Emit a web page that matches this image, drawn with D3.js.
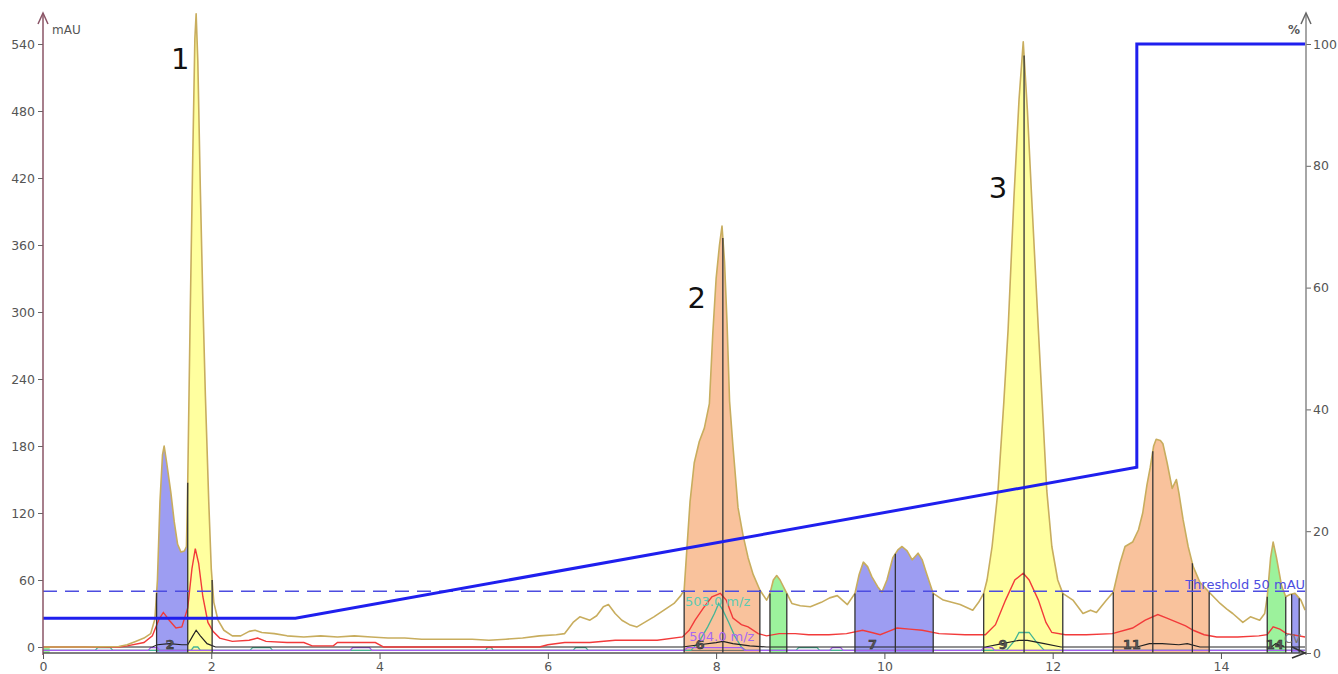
<!DOCTYPE html>
<html>
<head>
<meta charset="utf-8">
<script src="https://cdn.jsdelivr.net/npm/d3@7"></script>
<style>
  html, body { margin: 0; padding: 0; background: #fff; }
  svg { display: block; }
  text { font-family: "DejaVu Sans", sans-serif; }
</style>
</head>
<body>
<svg id="chart" width="1338" height="674"></svg>
<script>
// ---- chromatogram data (time in min, absorbance in mAU) ----
const uvTrace = [
  [0,0],[0.5,0],[0.9,0.5],[1.0,2],[1.1,5],[1.2,8],[1.28,12],[1.33,25],[1.36,60],[1.39,130],
  [1.42,172],[1.44,180],[1.47,165],[1.52,138],[1.56,112],[1.6,92],[1.64,85],[1.68,86],[1.705,90],
  [1.72,147],[1.75,300],[1.78,440],[1.805,545],[1.82,567],[1.84,525],[1.87,410],[1.9,310],
  [1.93,225],[1.97,130],[2.0,70],[2.03,40],[2.08,24],[2.15,15],[2.25,10],[2.35,10],[2.45,14],
  [2.52,15],[2.6,13],[2.75,12],[2.9,10],[3.1,9],[3.3,10],[3.5,9],[3.7,10],[3.9,9],[4.1,8],
  [4.3,8],[4.5,7],[4.8,7],[5.1,7],[5.3,6],[5.5,7],[5.7,8],[5.9,10],[6.1,11],[6.2,12],[6.3,22],
  [6.38,27],[6.5,24],[6.58,28],[6.66,36],[6.72,38],[6.8,30],[6.88,24],[6.97,20],[7.06,18],
  [7.15,22],[7.26,27],[7.38,33],[7.5,39],[7.58,46],[7.62,51],[7.65,85],[7.69,130],[7.74,165],
  [7.8,184],[7.86,196],[7.92,218],[7.96,280],[8.0,330],[8.04,360],[8.07,377],[8.1,345],
  [8.13,290],[8.16,220],[8.2,180],[8.26,125],[8.32,100],[8.38,80],[8.44,65],[8.52,51],[8.6,42],
  [8.64,48],[8.68,60],[8.72,64],[8.76,60],[8.84,48],[8.9,39],[9.0,37],[9.12,36],[9.25,40],
  [9.35,44],[9.44,46],[9.56,38],[9.65,48],[9.7,65],[9.75,76],[9.8,72],[9.85,63],[9.92,54],
  [9.97,49],[10.03,60],[10.1,80],[10.16,87],[10.21,90],[10.27,86],[10.33,78],[10.4,84],
  [10.45,78],[10.5,66],[10.58,48],[10.7,42],[10.8,40],[10.9,38],[11.05,33],[11.12,40],
  [11.18,48],[11.22,60],[11.28,90],[11.35,140],[11.42,220],[11.47,284],[11.54,403],[11.6,490],
  [11.65,542],[11.7,480],[11.75,403],[11.83,284],[11.93,140],[11.99,90],[12.06,60],[12.12,48],
  [12.24,42],[12.36,30],[12.45,33],[12.52,31],[12.64,42],[12.72,49],[12.8,75],[12.86,90],
  [12.95,94],[13.02,105],[13.07,120],[13.12,145],[13.16,161],[13.2,180],[13.23,186],[13.28,185],
  [13.31,182],[13.36,165],[13.42,142],[13.47,150],[13.5,138],[13.55,114],[13.61,90],[13.67,72],
  [13.75,58],[13.86,49],[13.99,39],[14.07,34],[14.14,30],[14.26,22],[14.35,27],[14.46,24],
  [14.52,30],[14.55,45],[14.59,80],[14.62,94],[14.66,80],[14.72,55],[14.77,45],[14.82,47],
  [14.88,48],[14.95,42],[15.0,33]
];

const secondWavelength = [
  [0,0],[0.9,0],[1.0,1],[1.2,4],[1.3,10],[1.38,25],[1.43,31],[1.5,24],[1.58,17],[1.65,18],
  [1.72,35],[1.77,70],[1.81,88],[1.85,75],[1.9,45],[1.96,22],[2.02,14],[2.1,8],[2.25,5],
  [2.45,6],[2.55,8],[2.65,5],[2.9,4],[3.1,4],[3.2,1],[3.45,1],[3.5,4],[3.95,4],[4.05,0],
  [5.9,0],[6.0,2],[6.2,4],[6.5,4],[6.8,6],[7.0,6],[7.3,6],[7.6,9],[7.68,15],[7.75,24],
  [7.85,35],[7.95,45],[8.05,48],[8.12,42],[8.2,26],[8.3,20],[8.38,18],[8.5,12],[8.6,10],
  [8.75,12],[8.94,12],[9.1,11],[9.34,11],[9.55,12],[9.74,15],[9.85,13],[9.95,11],[10.05,14],
  [10.15,17],[10.3,16],[10.45,15],[10.65,12],[10.96,11],[11.2,11],[11.32,20],[11.44,42],
  [11.55,60],[11.65,66],[11.72,60],[11.83,42],[11.92,22],[11.99,13],[12.15,11],[12.4,11],
  [12.71,12],[12.95,17],[13.1,24],[13.25,29],[13.35,26],[13.48,22],[13.58,19],[13.67,15],
  [13.8,11],[13.95,9],[14.2,9],[14.45,10],[14.55,11],[14.62,18],[14.7,16],[14.78,12],[15,9]
];

const ticTrace = [
  [0,0],[1.3,0],[1.36,2],[1.5,3],[1.65,2],[1.72,2],[1.78,10],[1.82,15],[1.87,10],[1.95,3],
  [2.05,0],[7.6,0],[7.8,2],[8.0,4],[8.08,5],[8.2,3],[8.4,1],[8.6,0],[11.2,0],[11.4,3],
  [11.6,6],[11.7,6],[11.9,3],[12.1,0],[13.0,0],[13.15,3],[13.3,3],[13.5,2],[13.6,3],
  [13.75,0],[14.6,0],[14.65,3],[14.75,0],[15,0]
];

const ms503 = [
  [0,-3],[0.62,-3],[0.65,-0.5],[0.8,-0.5],[0.83,-3],[1.76,-3],[1.79,0],[1.84,0],[1.87,-3],
  [2.46,-3],[2.49,-0.5],[2.7,-0.5],[2.73,-3],[5.26,-3],[5.28,-0.5],[5.33,-0.5],[5.35,-3],
  [6.3,-3],[6.33,-0.5],[6.45,-0.5],[6.48,-3],[7.7,-3],[7.8,5],[7.9,18],[7.98,30],[8.03,39],
  [8.08,33],[8.15,22],[8.22,10],[8.3,0],[8.35,-3],[8.95,-3],[8.98,-0.5],[9.2,-0.5],[9.23,-3],
  [11.45,-3],[11.55,6],[11.6,13],[11.72,13],[11.8,5],[11.9,-3],[15,-3]
];

const ms504 = [
  [0,-3],[1.25,-3],[1.28,-0.5],[1.36,-0.5],[1.39,-3],[3.65,-3],[3.68,-0.5],[3.88,-0.5],
  [3.91,-3],[7.62,-3],[7.66,-0.5],[8.3,-0.5],[8.34,-3],[9.35,-3],[9.38,-0.5],[9.48,-0.5],
  [9.51,-3],[11.15,-3],[11.18,-0.5],[11.28,-0.5],[11.31,-3],[15,-3]
];

// solvent B gradient (%)
const gradientTime = [0, 3, 13, 13, 15];
const gradientPct  = [5.7, 5.7, 30.5, 100, 100];

const thresholdMAU = 50;

// collected fractions
const fractionStart = [0.0, 1.35, 1.72, 7.62, 8.08, 8.64, 9.65, 10.13, 11.18, 11.66, 12.72, 13.19, 13.66, 14.55, 14.84];
const fractionEnd   = [0.08, 1.72, 2.01, 8.08, 8.52, 8.84, 10.13, 10.58, 11.66, 12.12, 13.19, 13.66, 13.86, 14.77, 14.93];
const fractionPool  = [4, 1, 2, 3, 3, 4, 1, 1, 2, 2, 3, 3, 3, 4, 1];

const fractionLabel     = ["2", "6", "7", "9", "11", "14"];
const fractionLabelTime = [1.51, 7.81, 9.86, 11.41, 12.94, 14.64];

const peakLabel = ["1", "2", "3"];

const xTicks      = [0, 2, 4, 6, 8, 10, 12, 14];
const yLeftTicks  = [0, 60, 120, 180, 240, 300, 360, 420, 480, 540];
const yRightTicks = [0, 20, 40, 60, 80, 100];

// ---- drawing ----
const svg = d3.select("#chart");

const x  = d3.scaleLinear().domain([0, 15]).range([43, 1305.1]);
const yL = d3.scaleLinear().domain([0, 540]).range([647, 44]);
const yR = d3.scaleLinear().domain([0, 100]).range([653, 44]);
const floorVal = yL.invert(653);

const poolFill = {1: "#9d9df2", 2: "#ffff9f", 3: "#f9c29c", 4: "#9cf29c"};

const bis = d3.bisector(d => d[0]).left;
function uvAt(t) {
  const i = Math.max(1, Math.min(uvTrace.length - 1, bis(uvTrace, t)));
  const a = uvTrace[i - 1], b = uvTrace[i];
  const f = b[0] === a[0] ? 0 : (t - a[0]) / (b[0] - a[0]);
  return a[1] + f * (b[1] - a[1]);
}

const lineL = d3.line().x(d => x(d[0])).y(d => yL(d[1]));
const areaL = d3.area().x(d => x(d[0])).y0(yL(floorVal)).y1(d => yL(d[1]));

const defs = svg.append("defs");

// fraction fills, each clipped to its time window
const fillG = svg.append("g");
fractionStart.forEach((s, i) => {
  const id = "frac" + i;
  defs.append("clipPath").attr("id", id).append("rect")
    .attr("x", x(s)).attr("y", 0)
    .attr("width", x(fractionEnd[i]) - x(s)).attr("height", 674);
  fillG.append("path").datum(uvTrace)
    .attr("d", areaL)
    .attr("clip-path", `url(#${id})`)
    .attr("fill", poolFill[fractionPool[i]]);
});

// baseline reference under the MS traces
svg.append("line")
  .attr("x1", x(0)).attr("x2", x(15))
  .attr("y1", yL(-3)).attr("y2", yL(-3))
  .attr("stroke", "#666").attr("stroke-width", 1);

// traces
svg.append("path").datum(ms503).attr("d", lineL)
  .attr("fill", "none").attr("stroke", "#45b595").attr("stroke-width", 1.3);
svg.append("path").datum(ms504).attr("d", lineL)
  .attr("fill", "none").attr("stroke", "#a45cf0").attr("stroke-width", 1.3);
svg.append("path").datum(ticTrace).attr("d", lineL)
  .attr("fill", "none").attr("stroke", "#222").attr("stroke-width", 1.2);
svg.append("path").datum(secondWavelength).attr("d", lineL)
  .attr("fill", "none").attr("stroke", "#f23a3a").attr("stroke-width", 1.4);
svg.append("path").datum(uvTrace).attr("d", lineL)
  .attr("fill", "none").attr("stroke", "#c8ad5e").attr("stroke-width", 1.6)
  .attr("stroke-linejoin", "round");

// fraction boundaries
const edges = Array.from(new Set(fractionStart.concat(fractionEnd))).filter(t => t > 0.1);
svg.append("g").selectAll("line").data(edges).join("line")
  .attr("x1", d => x(d)).attr("x2", d => x(d))
  .attr("y1", yL(floorVal)).attr("y2", d => yL(uvAt(d)))
  .attr("stroke", "#333").attr("stroke-width", 1.3);

// fraction numbers
svg.append("g").selectAll("text").data(fractionLabel).join("text")
  .attr("x", (d, i) => x(fractionLabelTime[i]))
  .attr("y", yL(-1.5))
  .attr("text-anchor", "middle")
  .attr("font-size", 13).attr("font-weight", "bold")
  .attr("fill", "#555").attr("stroke", "#222").attr("stroke-width", 0.4)
  .text(d => d);

svg.append("text").attr("x", x(14.75)).attr("y", yL(3.5))
  .attr("font-size", 12).attr("fill", "#777").text("CV");

// mass labels
svg.append("text").attr("x", x(7.63)).attr("y", yL(37))
  .attr("font-size", 13).attr("fill", "#5ccab2").text("503.0 m/z");
svg.append("text").attr("x", x(7.68)).attr("y", yL(5))
  .attr("font-size", 13).attr("fill", "#a868f2").text("504.0 m/z");

// threshold
svg.append("line")
  .attr("x1", x(0)).attr("x2", x(15))
  .attr("y1", yL(thresholdMAU)).attr("y2", yL(thresholdMAU))
  .attr("stroke", "#4d4de0").attr("stroke-width", 1.5)
  .attr("stroke-dasharray", "14,8");
svg.append("text").attr("x", x(15)).attr("y", yL(thresholdMAU) - 2)
  .attr("text-anchor", "end").attr("font-size", 13).attr("fill", "#4d4de0")
  .text(`Threshold ${thresholdMAU} mAU`);

// gradient
svg.append("path")
  .datum(gradientTime.map((t, i) => [t, gradientPct[i]]))
  .attr("d", d3.line().x(d => x(d[0])).y(d => yR(d[1])))
  .attr("fill", "none").attr("stroke", "#1f1fee").attr("stroke-width", 3);

// peak numbers
const peakAt = [[1.63, 518], [7.77, 304], [11.35, 402]];
svg.append("g").selectAll("text").data(peakLabel).join("text")
  .attr("x", (d, i) => x(peakAt[i][0])).attr("y", (d, i) => yL(peakAt[i][1]))
  .attr("text-anchor", "middle")
  .attr("font-family", "'Open Sans', sans-serif")
  .attr("font-size", 29).attr("fill", "#111")
  .text(d => d);

// axes
const tickStyle = g => {
  g.select(".domain").remove();
  g.selectAll("text").attr("font-size", 12.5).attr("fill", "#555")
    .attr("font-family", "'DejaVu Sans', sans-serif");
};

svg.append("g").attr("transform", "translate(43,0)")
  .call(d3.axisLeft(yL).tickValues(yLeftTicks).tickSize(5).tickPadding(3))
  .call(tickStyle)
  .call(g => g.selectAll("line").attr("stroke", "#666"));

svg.append("g").attr("transform", "translate(1306,0)")
  .call(d3.axisRight(yR).tickValues(yRightTicks).tickSize(5).tickPadding(2))
  .call(tickStyle)
  .call(g => g.selectAll("line").attr("stroke", "#666"));

svg.append("g").attr("transform", "translate(0,653)")
  .call(d3.axisBottom(x).tickValues(xTicks).tickSize(6).tickPadding(3))
  .call(tickStyle)
  .call(g => g.selectAll("line").attr("stroke", "#555"));

// axis lines with arrowheads
svg.append("line").attr("x1", 43).attr("x2", 43).attr("y1", 655).attr("y2", 14)
  .attr("stroke", "#8a5466").attr("stroke-width", 1.5);
svg.append("path").attr("d", "M38,24 L43,13 L48,24")
  .attr("fill", "none").attr("stroke", "#8a5466").attr("stroke-width", 1.5);

svg.append("line").attr("x1", 1306).attr("x2", 1306).attr("y1", 655).attr("y2", 14)
  .attr("stroke", "#888").attr("stroke-width", 1.5);
svg.append("path").attr("d", "M1301,24 L1306,13 L1311,24")
  .attr("fill", "none").attr("stroke", "#666").attr("stroke-width", 1.5);

svg.append("line").attr("x1", 43).attr("x2", 1306).attr("y1", 653).attr("y2", 653)
  .attr("stroke", "#555").attr("stroke-width", 1.5);
svg.append("path").attr("d", "M1292,647 L1305,653 L1292,658")
  .attr("fill", "none").attr("stroke", "#333").attr("stroke-width", 1.6);

svg.append("text").attr("x", 52).attr("y", 34)
  .attr("font-size", 12).attr("fill", "#555").text("mAU");
svg.append("text").attr("x", 1300).attr("y", 34).attr("text-anchor", "end")
  .attr("font-size", 12).attr("font-weight", "bold").attr("fill", "#555").text("%");
</script>
</body>
</html>
